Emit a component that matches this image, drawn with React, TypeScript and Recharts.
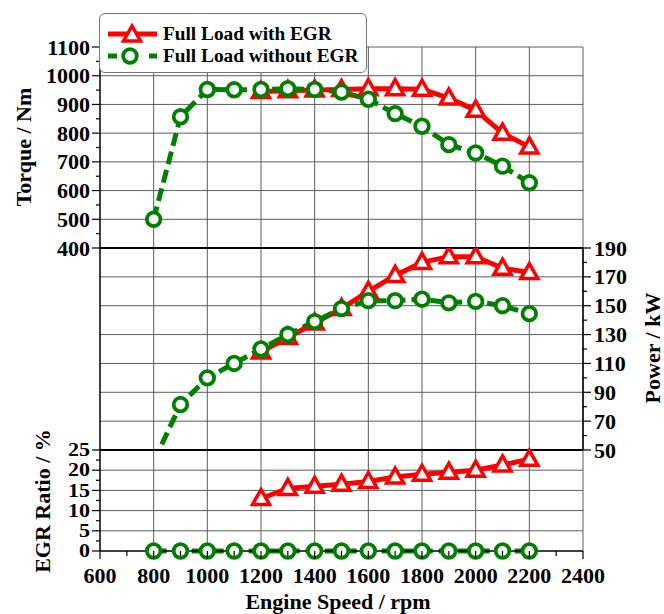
import React from 'react';
import { LineChart, Line, XAxis, YAxis, CartesianGrid, ReferenceLine, Legend } from 'recharts';

// Engine speed sweep (rpm)
const rpm = [800, 900, 1000, 1100, 1200, 1300, 1400, 1500, 1600, 1700, 1800, 1900, 2000, 2100, 2200];

// Full-load torque (Nm)
const torqueWithEgr = [null, null, null, null, 945, 948, 950, 952, 955, 955, 953, 922, 880, 800, 752];
const torqueWithoutEgr = [500, 857, 952, 951, 952, 955, 952, 943, 918, 868, 824, 760, 731, 685, 627];

// Full-load power (kW)
const powerWithEgr = [null, null, null, null, 118, 128, 138, 148, 160, 171, 180, 184, 184, 176, 173];
const powerWithoutEgr = [42, 81.5, 100, 110, 120, 130, 139, 148, 153.5, 153.5, 154.5, 152, 153, 150, 144.5];

// EGR ratio (%)
const egrWithEgr = [null, null, null, null, 13, 15.5, 16, 16.5, 17.2, 18.3, 19, 19.5, 20, 21.3, 22.7];
const egrWithoutEgr = [0, 0, 0, 0, 0, 0, 0, 0, 0, 0, 0, 0, 0, 0, 0];

// Axis ticks (major + minor)
const speedTicks = [600, 700, 800, 900, 1000, 1100, 1200, 1300, 1400, 1500, 1600, 1700, 1800, 1900, 2000, 2100, 2200, 2300, 2400];
const torqueTicks = [400, 450, 500, 550, 600, 650, 700, 750, 800, 850, 900, 950, 1000, 1050, 1100];
const powerTicks = [50, 60, 70, 80, 90, 100, 110, 120, 130, 140, 150, 160, 170, 180, 190];
const egrTicks = [0, 2.5, 5, 7.5, 10, 12.5, 15, 17.5, 20, 22.5, 25];

// Grid lines
const speedGrid = [800, 1000, 1200, 1400, 1600, 1800, 2000, 2200, 2400];
const torqueGrid = [500, 600, 700, 800, 900, 1000, 1100];
const powerGrid = [70, 90, 110, 130, 150, 170];
const egrGrid = [5, 10, 15, 20];

const SERIES_WITH = 'Full Load with EGR';
const SERIES_WITHOUT = 'Full Load without EGR';

const data = rpm.map((r, i) => ({
  rpm: r,
  tWith: torqueWithEgr[i],
  tWithout: torqueWithoutEgr[i],
  pWith: powerWithEgr[i],
  pWithout: powerWithoutEgr[i],
  eWith: egrWithEgr[i],
  eWithout: egrWithoutEgr[i],
}));

const FONT = "'Liberation Serif', 'Times New Roman', Times, serif";
const RED = '#ff0000';
const GREEN = '#008000';
const GRID = '#5c5c5c';
const W = 664;

// Left-side ticks: long mark + label for majors, short mark for minors.
// squash < 1 compresses the label height for tightly packed scales.
const leftTick = (isMajor: (v: number) => boolean, squash = 1) => (props: any) => {
  const { x, y, payload } = props;
  const major = isMajor(payload.value);
  return (
    <g>
      <line x1={x - (major ? 8 : 4)} y1={y} x2={x} y2={y} stroke="#000" strokeWidth={1.2} />
      {major && (
        <text
          x={0}
          y={0}
          transform={`translate(${x - 10},${y + 7.5 * squash}) scale(1,${squash})`}
          textAnchor="end"
          fontFamily={FONT}
          fontWeight="bold"
          fontSize={22}
          fill="#000"
        >
          {payload.value}
        </text>
      )}
    </g>
  );
};

const rightTick = (isMajor: (v: number) => boolean) => (props: any) => {
  const { x, y, payload } = props;
  const major = isMajor(payload.value);
  return (
    <g>
      <line x1={x} y1={y} x2={x + (major ? 8 : 4)} y2={y} stroke="#000" strokeWidth={1.2} />
      {major && (
        <text x={x + 11} y={y + 7.5} textAnchor="start" fontFamily={FONT} fontWeight="bold" fontSize={22} fill="#000">
          {payload.value}
        </text>
      )}
    </g>
  );
};

const bottomTick = (props: any) => {
  const { x, y, payload } = props;
  const major = payload.value % 200 === 0;
  return (
    <g>
      <line x1={x} y1={y} x2={x} y2={y + (major ? 8 : 5)} stroke="#000" strokeWidth={1.2} />
      {major && (
        <text x={x} y={y + 32} textAnchor="middle" fontFamily={FONT} fontWeight="bold" fontSize={22} fill="#000">
          {payload.value}
        </text>
      )}
    </g>
  );
};

const triangle = (cx: number, cy: number) =>
  `M${cx},${cy - 9} L${cx + 8.5},${cy + 6} L${cx - 8.5},${cy + 6} Z`;

const TriangleDot = (props: any) => {
  const { cx, cy, index, value } = props;
  if (cx == null || cy == null || value == null) return <g key={`t${index}`} />;
  return (
    <path key={`t${index}`} d={triangle(cx, cy)} fill="#fff" stroke={RED} strokeWidth={3.5} strokeLinejoin="miter" />
  );
};

const CircleDot = (props: any) => {
  const { cx, cy, index, value } = props;
  if (cx == null || cy == null || value == null) return <g key={`c${index}`} />;
  return <circle key={`c${index}`} cx={cx} cy={cy} r={6.8} fill="#fff" stroke={GREEN} strokeWidth={3.8} />;
};

const LegendBox = (props: any) => {
  const { payload } = props;
  return (
    <div
      style={{
        width: 266,
        height: 58,
        border: '1px solid #777',
        borderRadius: 6,
        background: '#fff',
        boxSizing: 'content-box',
        position: 'relative',
      }}
    >
      {(payload || []).map((entry: any, i: number) => {
        const isWith = entry.value === SERIES_WITH;
        return (
          <div
            key={entry.value}
            style={{ position: 'absolute', left: 7, top: i === 0 ? 9 : 31, height: 22, display: 'flex', alignItems: 'center' }}
          >
            <svg width={52} height={22}>
              {isWith ? (
                <g>
                  <line x1={1} y1={11} x2={50} y2={11} stroke={RED} strokeWidth={5} />
                  <path d={triangle(25, 12)} fill="#fff" stroke={RED} strokeWidth={3.5} />
                </g>
              ) : (
                <g>
                  <line x1={1} y1={11} x2={10} y2={11} stroke={GREEN} strokeWidth={5} />
                  <line x1={42} y1={11} x2={50} y2={11} stroke={GREEN} strokeWidth={5} />
                  <circle cx={23} cy={11} r={6.8} fill="#fff" stroke={GREEN} strokeWidth={3.8} />
                </g>
              )}
            </svg>
            <span
              style={{
                marginLeft: 4,
                fontFamily: FONT,
                fontWeight: 'bold',
                fontSize: 19.3,
                color: '#000',
                whiteSpace: 'nowrap',
                lineHeight: '22px',
              }}
            >
              {entry.value}
            </span>
          </div>
        );
      })}
    </div>
  );
};

const titleStyle = { fontFamily: FONT, fontWeight: 'bold' as const, fontSize: 22, fill: '#000' };

export default function App() {
  return (
    <div style={{ position: 'absolute', left: 0, top: 0, width: W, height: 614, background: '#fff', overflow: 'hidden' }}>
      {/* Torque panel */}
      <div style={{ position: 'absolute', left: 0, top: 0 }}>
        <LineChart width={W} height={260} data={data} margin={{ top: 47, right: 81, bottom: 12, left: 40 }}>
          <CartesianGrid stroke={GRID} strokeWidth={1} horizontalValues={torqueGrid} verticalValues={speedGrid} />
          <XAxis type="number" dataKey="rpm" domain={[600, 2400]} ticks={speedTicks} hide />
          <YAxis
            type="number"
            domain={[400, 1100]}
            ticks={torqueTicks}
            interval={0}
            width={60}
            tickSize={0}
            tickMargin={0}
            tickLine={false}
            axisLine={{ stroke: '#000', strokeWidth: 1.5 }}
            tick={leftTick((v) => v % 100 === 0)}
          />
          <ReferenceLine y={400} stroke="#000" strokeWidth={2} />
          <Line name={SERIES_WITH} dataKey="tWith" stroke={RED} strokeWidth={5} dot={TriangleDot} isAnimationActive={false} />
          <Line
            name={SERIES_WITHOUT}
            dataKey="tWithout"
            stroke={GREEN}
            strokeWidth={5}
            strokeDasharray="13 6"
            dot={CircleDot}
            isAnimationActive={false}
          />
          <Legend
            layout="vertical"
            align="center"
            verticalAlign="middle"
            wrapperStyle={{ left: 99, top: 13 }}
            content={LegendBox}
          />
        </LineChart>
      </div>

      {/* Power panel */}
      <div style={{ position: 'absolute', left: 0, top: 228 }}>
        <LineChart width={W} height={234} data={data} margin={{ top: 20, right: 11, bottom: 12, left: 100 }}>
          <CartesianGrid stroke={GRID} strokeWidth={1} horizontalValues={powerGrid} verticalValues={speedGrid} />
          <XAxis type="number" dataKey="rpm" domain={[600, 2400]} ticks={speedTicks} hide />
          <YAxis
            orientation="right"
            type="number"
            domain={[50, 190]}
            allowDataOverflow
            ticks={powerTicks}
            interval={0}
            width={70}
            tickSize={0}
            tickMargin={0}
            tickLine={false}
            axisLine={{ stroke: '#000', strokeWidth: 1.5 }}
            tick={rightTick((v) => (v - 50) % 20 === 0)}
          />
          <ReferenceLine x={600} stroke="#000" strokeWidth={1.5} />
          <ReferenceLine y={190} stroke="#000" strokeWidth={2} />
          <ReferenceLine y={50} stroke="#000" strokeWidth={2} />
          <Line dataKey="pWith" stroke={RED} strokeWidth={5} dot={TriangleDot} isAnimationActive={false} />
          <Line
            dataKey="pWithout"
            stroke={GREEN}
            strokeWidth={5}
            strokeDasharray="13 6"
            dot={CircleDot}
            isAnimationActive={false}
          />
        </LineChart>
      </div>

      {/* EGR ratio panel */}
      <div style={{ position: 'absolute', left: 0, top: 430 }}>
        <LineChart width={W} height={184} data={data} margin={{ top: 20, right: 81, bottom: 0, left: 40 }}>
          <CartesianGrid stroke={GRID} strokeWidth={1} horizontalValues={egrGrid} verticalValues={speedGrid} />
          <XAxis
            type="number"
            dataKey="rpm"
            domain={[600, 2400]}
            ticks={speedTicks}
            interval={0}
            height={63}
            tickSize={0}
            tickMargin={0}
            tickLine={false}
            axisLine={{ stroke: '#000', strokeWidth: 1.5 }}
            tick={bottomTick}
          />
          <YAxis
            type="number"
            domain={[0, 25]}
            ticks={egrTicks}
            interval={0}
            width={60}
            tickSize={0}
            tickMargin={0}
            tickLine={false}
            axisLine={{ stroke: '#000', strokeWidth: 1.5 }}
            tick={leftTick((v) => v % 5 === 0, 0.82)}
          />
          <ReferenceLine y={25} stroke="#000" strokeWidth={2} />
          <Line dataKey="eWith" stroke={RED} strokeWidth={5} dot={TriangleDot} isAnimationActive={false} />
          <Line
            dataKey="eWithout"
            stroke={GREEN}
            strokeWidth={5}
            strokeDasharray="13 6"
            dot={CircleDot}
            isAnimationActive={false}
          />
        </LineChart>
      </div>

      {/* Axis titles */}
      <svg width={W} height={614} style={{ position: 'absolute', left: 0, top: 0, pointerEvents: 'none' }}>
        <text x={31} y={147} transform="rotate(-90 31 147)" textAnchor="middle" {...titleStyle}>
          Torque / Nm
        </text>
        <text x={50} y={501} transform="rotate(-90 50 501)" textAnchor="middle" {...titleStyle}>
          EGR Ratio / %
        </text>
        <text x={660} y={348} transform="rotate(-90 660 348)" textAnchor="middle" {...titleStyle}>
          Power / kW
        </text>
        <text x={338} y={609} textAnchor="middle" {...titleStyle}>
          Engine Speed / rpm
        </text>
      </svg>
    </div>
  );
}
